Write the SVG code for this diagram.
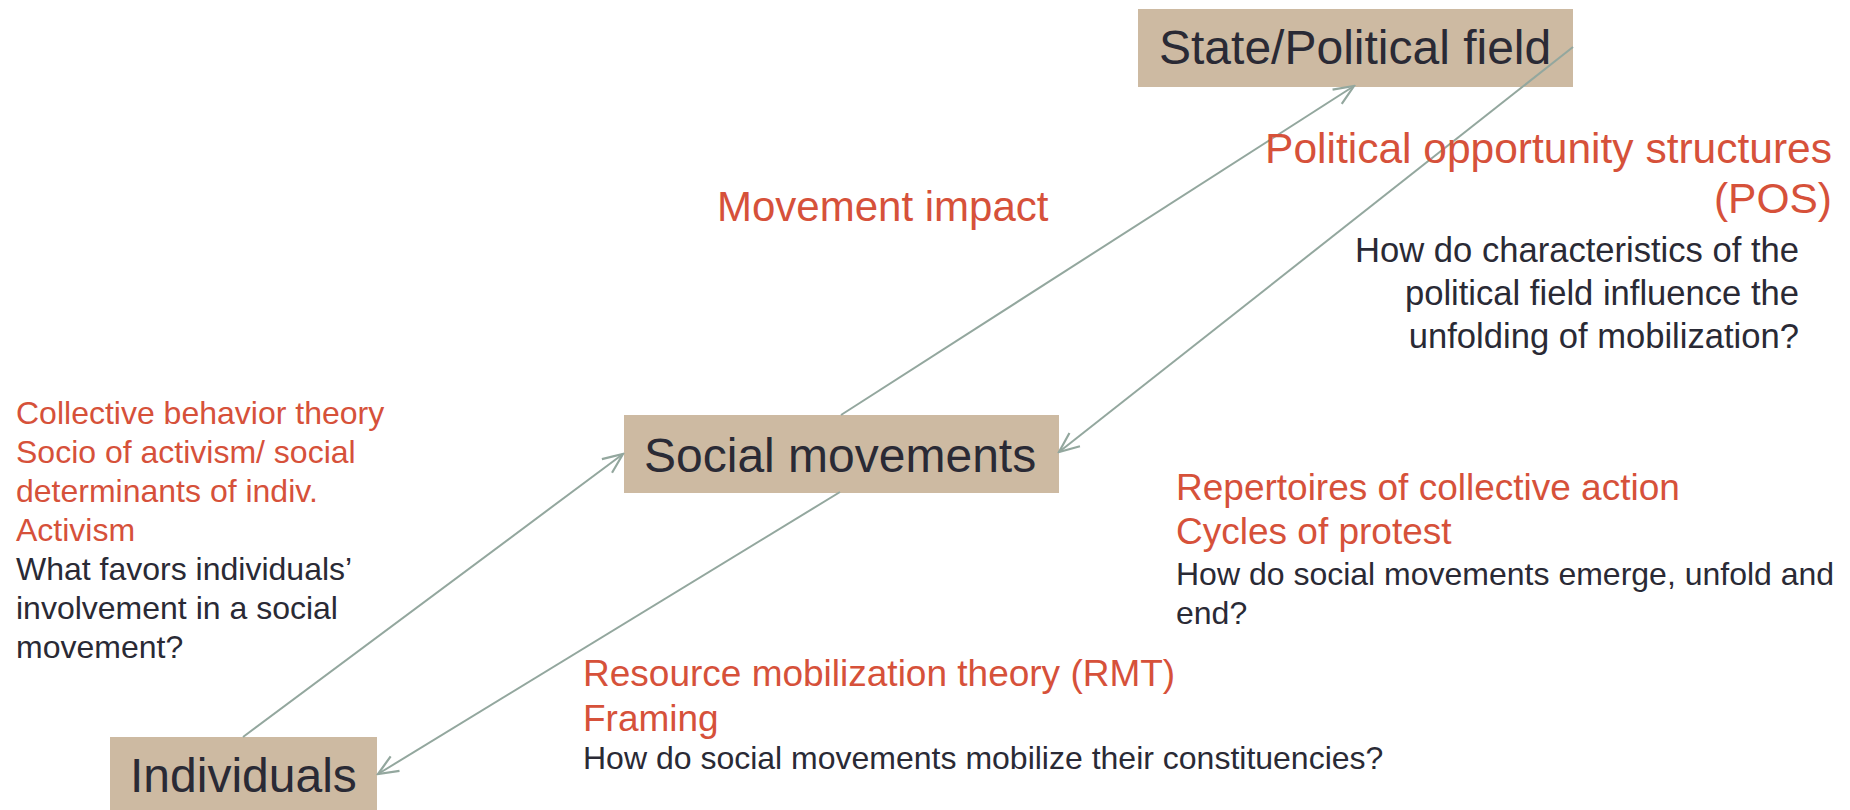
<svg xmlns="http://www.w3.org/2000/svg" width="1850" height="810" viewBox="0 0 1850 810">
<defs>
<style>
.box{fill:#CDBAA2;}
.nt{font-family:"Liberation Sans",Arial,sans-serif;font-size:48px;fill:#2A2A35;}
.red{font-family:"Liberation Sans",Arial,sans-serif;fill:#D6513A;}
.blk{font-family:"Liberation Sans",Arial,sans-serif;fill:#2A2A35;}
.con{stroke:#93A79E;stroke-width:2;fill:none;marker-end:url(#ah);}
</style>
<marker id="ah" markerUnits="userSpaceOnUse" viewBox="-24 -12 26 24" refX="0" refY="0" markerWidth="26" markerHeight="24" orient="auto">
<path d="M -20 -8.5 L 0 0 L -20 8.5" fill="none" stroke="#93A79E" stroke-width="2.2"/>
</marker>
</defs>
<rect width="1850" height="810" fill="#FFFFFF"/>
<g id="node-state">
<rect class="box" x="1138" y="9" width="435" height="78"/>
<text class="nt" x="1159" y="64">State/Political field</text>
</g>
<g id="node-social">
<rect class="box" x="624" y="415" width="435" height="78"/>
<text class="nt" x="644" y="472">Social movements</text>
</g>
<g id="node-individuals">
<rect class="box" x="110" y="737" width="267" height="73"/>
<text class="nt" x="130" y="792">Individuals</text>
</g>
<g id="connectors">
<line class="con" x1="841" y1="415" x2="1354" y2="86"/>
<line class="con" x1="1573" y1="47" x2="1059" y2="452"/>
<line class="con" x1="243" y1="737" x2="623" y2="454"/>
<line class="con" x1="840" y1="492" x2="378" y2="774"/>
</g>
<g id="label-impact">
<text class="red" x="717" y="221" font-size="42">Movement impact</text>
</g>
<g id="label-pos" text-anchor="end">
<text class="red" x="1832" y="163" font-size="42.5">Political opportunity structures</text>
<text class="red" x="1832" y="213" font-size="42.5">(POS)</text>
<text class="blk" x="1799" y="262" font-size="34.6">How do characteristics of the</text>
<text class="blk" x="1799" y="305" font-size="34.6">political field influence the</text>
<text class="blk" x="1799" y="348" font-size="34.6">unfolding of mobilization?</text>
</g>
<g id="label-left">
<text class="red" x="16" y="424" font-size="32">Collective behavior theory</text>
<text class="red" x="16" y="463" font-size="32">Socio of activism/ social</text>
<text class="red" x="16" y="502" font-size="32">determinants of indiv.</text>
<text class="red" x="16" y="541" font-size="32">Activism</text>
<text class="blk" x="16" y="580" font-size="32">What favors individuals’</text>
<text class="blk" x="16" y="619" font-size="32">involvement in a social</text>
<text class="blk" x="16" y="658" font-size="32">movement?</text>
</g>
<g id="label-repertoires">
<text class="red" x="1176" y="500" font-size="37">Repertoires of collective action</text>
<text class="red" x="1176" y="544" font-size="37">Cycles of protest</text>
<text class="blk" x="1176" y="585" font-size="32">How do social movements emerge, unfold and</text>
<text class="blk" x="1176" y="624" font-size="32">end?</text>
</g>
<g id="label-rmt">
<text class="red" x="583" y="686" font-size="37">Resource mobilization theory (RMT)</text>
<text class="red" x="583" y="731" font-size="37">Framing</text>
<text class="blk" x="583" y="769" font-size="32">How do social movements mobilize their constituencies?</text>
</g>
</svg>
